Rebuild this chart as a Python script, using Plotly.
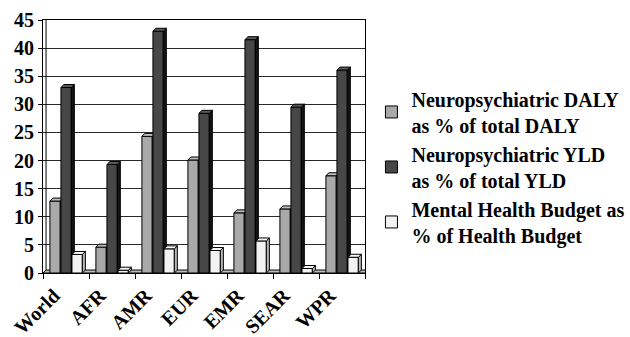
import plotly.graph_objects as go

# Regions and indicator values (%)
regions = ["World", "AFR", "AMR", "EUR", "EMR", "SEAR", "WPR"]
daly_pct = [12.8, 4.6, 24.3, 20.1, 10.7, 11.4, 17.3]
yld_pct = [33.0, 19.3, 43.0, 28.4, 41.5, 29.5, 36.1]
budget_pct = [3.3, 0.5, 4.3, 4.0, 5.7, 0.8, 2.8]

series_names = [
    "Neuropsychiatric DALY<br>as % of total DALY",
    "Neuropsychiatric YLD<br>as % of total YLD",
    "Mental Health Budget as<br>% of Health Budget",
]
series_values = [daly_pct, yld_pct, budget_pct]

# front / side / top shades for each series
front_cols = ["#a9a9a9", "#474747", "#f3f3f3"]
side_cols = ["#7a7a7a", "#141414", "#b8b8b8"]
top_cols = ["#bdbdbd", "#5a5a5a", "#fafafa"]

BAR_W = 0.225          # front-face width, in category units
STEP = 0.24            # distance between bars of one group
FIRST = -0.35          # left edge of first bar relative to category centre
DX, DY = 0.066, 0.53   # pseudo-3D depth (x in category units, y in %)

FONT = dict(family="'Liberation Serif', 'Times New Roman', Times, serif",
            size=20, color="black", weight="bold")

fig = go.Figure()


def poly_trace(polys, color):
    xs, ys = [], []
    for px, py in polys:
        xs += px + [px[0], None]
        ys += py + [py[0], None]
    return go.Scatter(x=xs, y=ys, mode="lines", fill="toself",
                      fillcolor=color, line=dict(color="black", width=1),
                      hoverinfo="skip", showlegend=False)


# floor slab
x0, x1 = -0.5, len(regions) - 0.5
fig.add_trace(poly_trace([([x0, x1, x1 + DX, x0 + DX], [0, 0, DY, DY])],
                         "#bcbcbc"))

for s, vals in enumerate(series_values):
    fronts, sides, tops = [], [], []
    for i, v in enumerate(vals):
        left = i + FIRST + s * STEP
        right = left + BAR_W
        fronts.append(([left, right, right, left], [0, 0, v, v]))
        sides.append(([right, right + DX, right + DX, right],
                      [0, DY, v + DY, v]))
        tops.append(([left, right, right + DX, left + DX],
                     [v, v, v + DY, v + DY]))
    fig.add_trace(poly_trace(fronts, front_cols[s]))
    fig.add_trace(poly_trace(sides, side_cols[s]))
    fig.add_trace(poly_trace(tops, top_cols[s]))

# legend swatches
for s, name in enumerate(series_names):
    fig.add_trace(go.Bar(x=[None], y=[None], name=name,
                         marker=dict(color=front_cols[s],
                                     line=dict(color="black", width=1))))

# inner edge of the left wall
fig.add_shape(type="line", xref="x", yref="y",
              x0=x0 + DX, x1=x0 + DX, y0=DY, y1=45,
              line=dict(color="black", width=1))

fig.update_layout(
    width=630, height=337,
    margin=dict(l=43, r=265, t=20, b=64, autoexpand=False),
    paper_bgcolor="white", plot_bgcolor="white",
    font=FONT,
    showlegend=True,
    legend=dict(x=1.02, y=0.765, xanchor="left", yanchor="top",
                font=dict(FONT, size=20), bgcolor="rgba(0,0,0,0)",
                itemwidth=30, tracegroupgap=6),
)
fig.update_xaxes(
    range=[x0, x1], tickmode="array", automargin=False,
    tickvals=list(range(len(regions))), ticktext=regions,
    tickangle=-45, ticks="", showgrid=False, zeroline=False,
    ticklabelshift=-12, ticklabelstandoff=2,
    showline=True, linecolor="black", linewidth=1, mirror=True,
    minor=dict(tick0=-0.5, dtick=1, ticks="outside", ticklen=5,
               tickcolor="black", showgrid=False),
    tickfont=FONT,
)
fig.update_yaxes(
    range=[0, 45], dtick=5, ticks="outside", ticklen=4, tickcolor="black",
    automargin=False,
    showgrid=True, gridcolor="#2a2a2a", gridwidth=1, zeroline=False,
    showline=True, linecolor="black", linewidth=1, mirror=True,
    tickfont=FONT,
)

fig.write_html("out.html")
